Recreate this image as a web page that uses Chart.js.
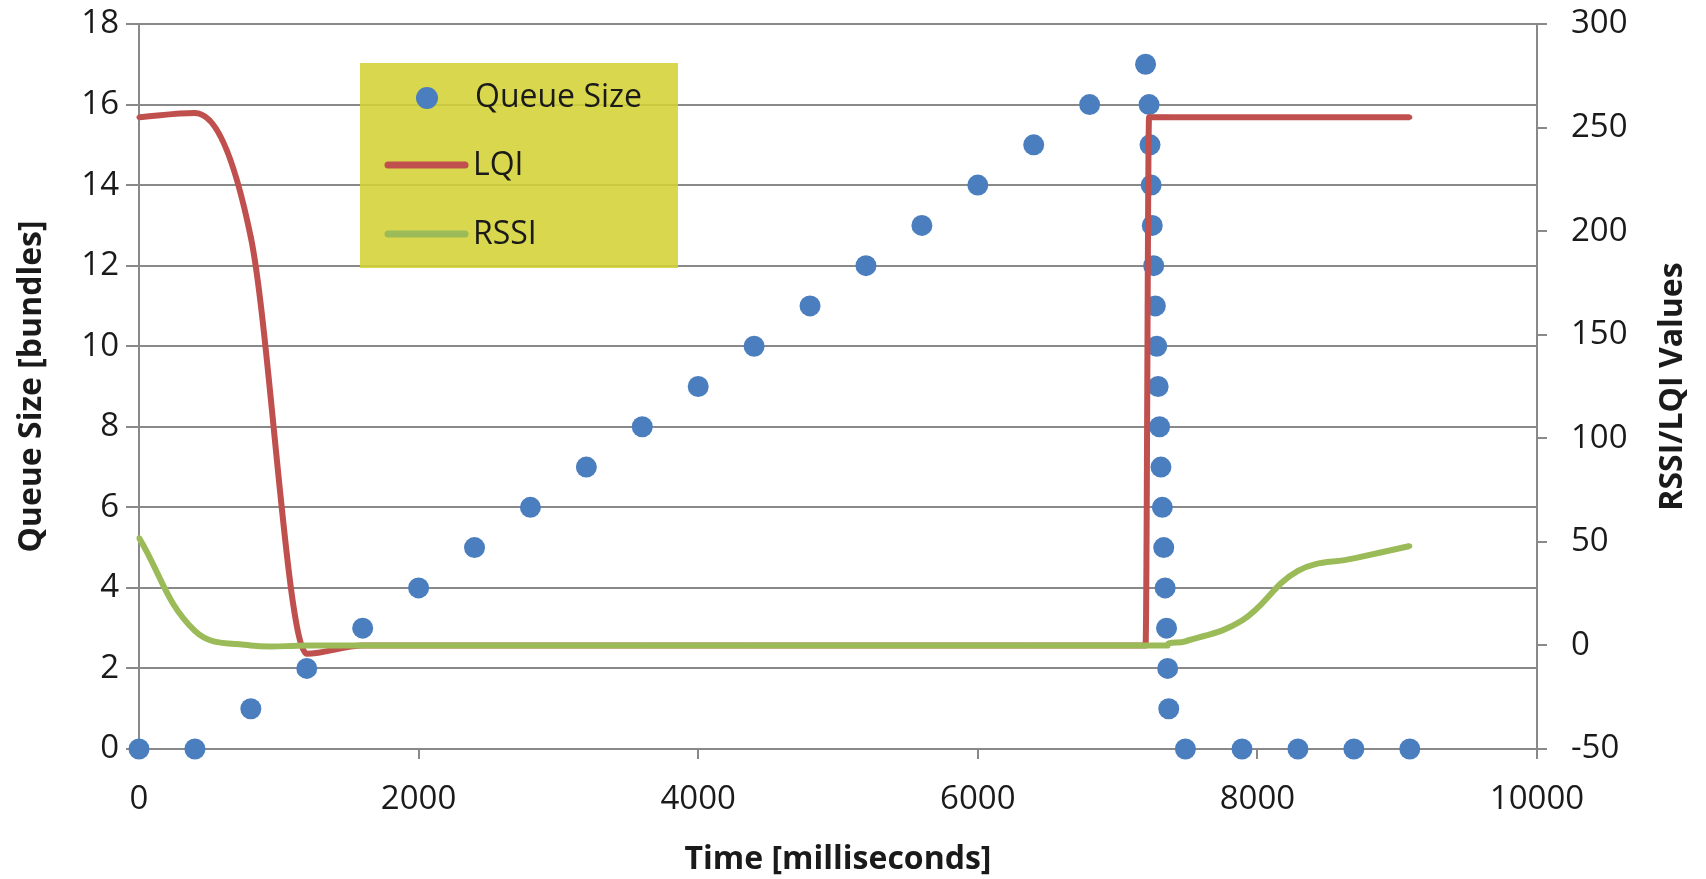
<!DOCTYPE html>
<html>
<head>
<meta charset="utf-8">
<title>Queue Size vs RSSI / LQI</title>
<script src="https://cdn.jsdelivr.net/npm/chart.js@4.4.0/dist/chart.umd.min.js"></script>
<style>
    html, body { margin: 0; padding: 0; background: #ffffff; }
    #wrap { width: 1706px; height: 879px; position: relative; }
</style>
</head>
<body>
<div id="wrap"><canvas id="queueChart"></canvas></div>
<script>
// Thời điểm lấy mẫu (ms) - dùng chung cho cả 3 chuỗi
const timeMs = [
    0, 400, 800, 1200, 1600, 2000, 2400, 2800, 3200, 3600,
    4000, 4400, 4800, 5200, 5600, 6000, 6400, 6800, 7200,
    7225, 7232, 7240, 7248, 7258, 7270, 7280, 7290, 7300, 7310,
    7320, 7330, 7340, 7350, 7358, 7366,
    7485, 7890, 8290, 8690, 9090
];

// Kích thước hàng đợi (bundles) - trục trái
const queueSize = [
    0, 0, 1, 2, 3, 4, 5, 6, 7, 8,
    9, 10, 11, 12, 13, 14, 15, 16, 17,
    16, 15, 14, 13, 12, 11, 10, 9, 8, 7,
    6, 5, 4, 3, 2, 1,
    0, 0, 0, 0, 0
];

// LQI - trục phải
const lqiValues = [
    255, 257, 197, -4, 0, 0, 0, 0, 0, 0,
    0, 0, 0, 0, 0, 0, 0, 0, 0,
    255, 255, 255, 255, 255, 255, 255, 255, 255, 255,
    255, 255, 255, 255, 255, 255,
    255, 255, 255, 255, 255
];

// RSSI - trục phải
const rssiValues = [
    52, 7, 0, 0, 0, 0, 0, 0, 0, 0,
    0, 0, 0, 0, 0, 0, 0, 0, 0,
    0, 0, 0, 0, 0, 0, 0, 0, 0, 0,
    0, 0, 0, 0, 0, 1,
    2, 12, 36, 42, 48
];

// Nhãn trục
const xTickValues = [0, 2000, 4000, 6000, 8000, 10000];
const queueTickValues = [0, 2, 4, 6, 8, 10, 12, 14, 16, 18];
const rssiTickValues = [-50, 0, 50, 100, 150, 200, 250, 300];

const blue = '#4a7ebf';
const red = '#c0504d';
const green = '#9bbb59';
const gridColor = '#898989';
const textColor = '#1a1a1a';

Chart.defaults.font.family = '"Open Sans", "DejaVu Sans", sans-serif';

/**
 * Ghép mảng thời gian với mảng giá trị thành các điểm {x, y}
 */
function toPoints(values) {
    return timeMs.map((t, i) => ({ x: t, y: values[i] }));
}

function setTicks(values) {
    return function(scale) {
        scale.ticks = values.map(v => ({ value: v }));
    };
}

/**
 * Cố định kích thước trục, bỏ phần đệm tự động của nhãn
 */
function fixSize(prop, size) {
    return function(scale) {
        scale[prop] = size;
        scale.paddingTop = 0;
        scale.paddingBottom = 0;
        scale.paddingLeft = 0;
        scale.paddingRight = 0;
    };
}

// Hộp chú thích màu vàng nằm trong vùng vẽ
const legendBoxPlugin = {
    id: 'legendBox',
    afterDatasetsDraw(chart) {
        const ctx = chart.ctx;
        const ds = chart.data.datasets;
        ctx.save();
        ctx.fillStyle = 'rgba(212, 210, 52, 0.88)';
        ctx.fillRect(360, 63, 318, 205);

        ctx.font = '32px "Open Sans", sans-serif';
        ctx.textBaseline = 'middle';
        ctx.textAlign = 'left';

        // Queue Size: chấm tròn
        ctx.fillStyle = ds[0].pointBackgroundColor;
        ctx.beginPath();
        ctx.arc(427, 98, 11, 0, Math.PI * 2);
        ctx.fill();
        ctx.fillStyle = textColor;
        ctx.fillText(ds[0].label, 475, 98);

        // LQI & RSSI: đoạn thẳng
        const rows = [[ds[1], 165], [ds[2], 234]];
        rows.forEach(([d, y]) => {
            ctx.strokeStyle = d.borderColor;
            ctx.lineWidth = 7;
            ctx.lineCap = 'round';
            ctx.beginPath();
            ctx.moveTo(388, y);
            ctx.lineTo(465, y);
            ctx.stroke();
            ctx.fillStyle = textColor;
            ctx.fillText(d.label, 473, y + 1);
        });
        ctx.restore();
    }
};

// Tiêu đề trục phải, đọc từ dưới lên
const rightTitlePlugin = {
    id: 'rightTitle',
    afterDraw(chart) {
        const ctx = chart.ctx;
        const area = chart.chartArea;
        ctx.save();
        ctx.translate(1673, (area.top + area.bottom) / 2);
        ctx.rotate(-Math.PI / 2);
        ctx.font = 'bold 32px "Open Sans", sans-serif';
        ctx.fillStyle = textColor;
        ctx.textAlign = 'center';
        ctx.textBaseline = 'middle';
        ctx.fillText('RSSI/LQI Values', 0, 0);
        ctx.restore();
    }
};

function initQueueChart() {
    const ctx = document.getElementById('queueChart');

    new Chart(ctx, {
        type: 'scatter',
        data: {
            datasets: [{
                label: 'Queue Size',
                data: toPoints(queueSize),
                yAxisID: 'y',
                showLine: false,
                pointRadius: 10.5,
                pointHoverRadius: 10.5,
                pointBackgroundColor: blue,
                pointBorderWidth: 0,
                clip: false,
                order: 3
            }, {
                label: 'LQI',
                data: toPoints(lqiValues),
                yAxisID: 'y2',
                showLine: true,
                borderColor: red,
                borderWidth: 6,
                cubicInterpolationMode: 'monotone',
                pointRadius: 2.5,
                pointBackgroundColor: red,
                pointBorderWidth: 0,
                clip: false,
                order: 2
            }, {
                label: 'RSSI',
                data: toPoints(rssiValues),
                yAxisID: 'y2',
                showLine: true,
                borderColor: green,
                borderWidth: 6,
                tension: 0.4,
                pointRadius: 2.5,
                pointBackgroundColor: green,
                pointBorderWidth: 0,
                clip: false,
                order: 1
            }]
        },
        options: {
            responsive: true,
            maintainAspectRatio: false,
            animation: false,
            events: [],
            layout: {
                padding: { top: 24, left: 0, right: 0, bottom: 0 }
            },
            plugins: {
                legend: { display: false },
                tooltip: { enabled: false }
            },
            scales: {
                x: {
                    type: 'linear',
                    min: 0,
                    max: 10000,
                    afterBuildTicks: setTicks(xTickValues),
                    afterFit: fixSize('height', 130),
                    grid: {
                        drawOnChartArea: false,
                        tickLength: 10,
                        color: gridColor,
                        lineWidth: 2
                    },
                    border: { color: gridColor, width: 2 },
                    ticks: {
                        font: { size: 33 },
                        color: textColor,
                        padding: 21,
                        maxRotation: 0,
                        callback: v => String(v)
                    },
                    title: {
                        display: true,
                        text: 'Time [milliseconds]',
                        color: textColor,
                        font: { size: 32, weight: 'bold' },
                        padding: { top: 0, bottom: 0 }
                    }
                },
                y: {
                    position: 'left',
                    min: 0,
                    max: 18,
                    afterBuildTicks: setTicks(queueTickValues),
                    afterFit: fixSize('width', 139),
                    grid: {
                        color: gridColor,
                        lineWidth: 2,
                        tickLength: 13
                    },
                    border: { color: gridColor, width: 2 },
                    ticks: {
                        font: { size: 33 },
                        color: textColor,
                        padding: 7
                    },
                    title: {
                        display: true,
                        text: 'Queue Size [bundles]',
                        color: textColor,
                        font: { size: 32, weight: 'bold' },
                        padding: { top: 13, bottom: 0 }
                    }
                },
                y2: {
                    position: 'right',
                    min: -50,
                    max: 300,
                    afterBuildTicks: setTicks(rssiTickValues),
                    afterFit: fixSize('width', 169),
                    grid: {
                        drawOnChartArea: false,
                        color: gridColor,
                        lineWidth: 2,
                        tickLength: 10
                    },
                    border: { color: gridColor, width: 2 },
                    ticks: {
                        font: { size: 33 },
                        color: textColor,
                        padding: 24
                    }
                }
            }
        },
        plugins: [legendBoxPlugin, rightTitlePlugin]
    });
}

initQueueChart();
</script>
</body>
</html>
